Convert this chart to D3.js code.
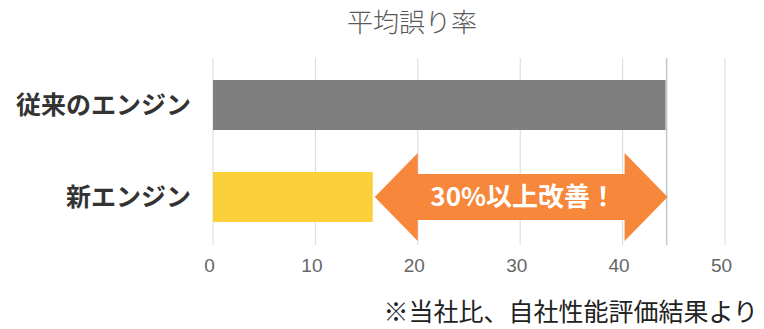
<!DOCTYPE html>
<html>
<head>
<meta charset="utf-8">
<script src="https://cdn.jsdelivr.net/npm/d3@7"></script>
<style>
  body { margin: 0; background: #fff; }
  text { font-family: "Noto Sans CJK JP", "Noto Sans", sans-serif; }
</style>
</head>
<body>
<div id="chart"></div>
<script>
// data
var categories = ["従来のエンジン", "新エンジン"];
var errorRates = [44.2, 15.6];
var barColors = ["#7f7f7f", "#fbd03b"];
var xTicks = [0, 10, 20, 30, 40, 50];
var chartTitle = "平均誤り率";
var arrowLabel = "30%以上改善！";
var footnote = "※当社比、自社性能評価結果より";

var svgWidth = 764, svgHeight = 329;
var margin = { top: 58, right: 39, bottom: 84, left: 213 };
var width = svgWidth - margin.left - margin.right;
var height = svgHeight - margin.top - margin.bottom;

var svg = d3.select("#chart").append("svg")
  .attr("width", svgWidth)
  .attr("height", svgHeight);

var g = svg.append("g")
  .attr("transform", `translate(${margin.left}, ${margin.top})`);

var xScale = d3.scaleLinear().domain([0, 50]).range([0, width]);

// title
svg.append("text")
  .attr("x", 412).attr("y", 32)
  .attr("text-anchor", "middle")
  .attr("font-size", 26)
  .attr("font-weight", 300)
  .attr("fill", "#595959")
  .text(chartTitle);

// gridlines
g.selectAll(".grid")
  .data(xTicks)
  .enter().append("line")
  .attr("x1", d => xScale(d)).attr("x2", d => xScale(d))
  .attr("y1", 0).attr("y2", height)
  .attr("stroke", "#d9d9d9").attr("stroke-width", 1);

// x axis labels
var xAxis = d3.axisBottom(xScale).tickValues(xTicks).tickSize(0).tickPadding(14);
var axisG = g.append("g")
  .attr("transform", `translate(0, ${height})`)
  .call(xAxis);
axisG.select(".domain").remove();
axisG.selectAll("text")
  .attr("font-size", 19)
  .attr("fill", "#666")
  .attr("dx", -4)
  .style("font-family", "'Liberation Sans', Arial, sans-serif");

// bars
var bandH = 50;
var barY = [22, 114];
g.selectAll(".bar")
  .data(errorRates)
  .enter().append("rect")
  .attr("x", xScale(0))
  .attr("y", (d, i) => barY[i])
  .attr("width", d => xScale(d) - xScale(0))
  .attr("height", bandH)
  .attr("fill", (d, i) => barColors[i]);

// category labels
g.selectAll(".cat")
  .data(categories)
  .enter().append("text")
  .attr("x", -22)
  .attr("y", (d, i) => barY[i] + bandH / 2)
  .attr("dy", "0.36em")
  .attr("text-anchor", "end")
  .attr("font-size", 25)
  .attr("font-weight", "bold")
  .attr("fill", "#333")
  .text(d => d);

// reference line at old engine value
g.append("line")
  .attr("x1", xScale(errorRates[0]) + 1).attr("x2", xScale(errorRates[0]) + 1)
  .attr("y1", 0).attr("y2", height)
  .attr("stroke", "#b9c9d3").attr("stroke-width", 1.5);

// double arrow from new value to old value
var ax0 = xScale(errorRates[1]) + 2;
var ax1 = xScale(errorRates[0]) + 2;
var cy = barY[1] + bandH / 2;
var headW = 43, headH = 44, shaftH = 23;
var arrowPath = [
  [ax0, cy],
  [ax0 + headW, cy - headH],
  [ax0 + headW, cy - shaftH],
  [ax1 - headW, cy - shaftH],
  [ax1 - headW, cy - headH],
  [ax1, cy],
  [ax1 - headW, cy + headH],
  [ax1 - headW, cy + shaftH],
  [ax0 + headW, cy + shaftH],
  [ax0 + headW, cy + headH]
];
g.append("path")
  .attr("d", d3.line()(arrowPath) + "Z")
  .attr("fill", "#f6873b");

g.append("text")
  .attr("x", (ax0 + ax1) / 2 + 2)
  .attr("y", cy)
  .attr("dy", "0.36em")
  .attr("text-anchor", "middle")
  .attr("font-size", 26)
  .attr("font-weight", "bold")
  .attr("fill", "#fff")
  .text(arrowLabel);

// footnote
svg.append("text")
  .attr("x", 758).attr("y", 321)
  .attr("text-anchor", "end")
  .attr("font-size", 25)
  .attr("fill", "#222")
  .text(footnote);
</script>
</body>
</html>
